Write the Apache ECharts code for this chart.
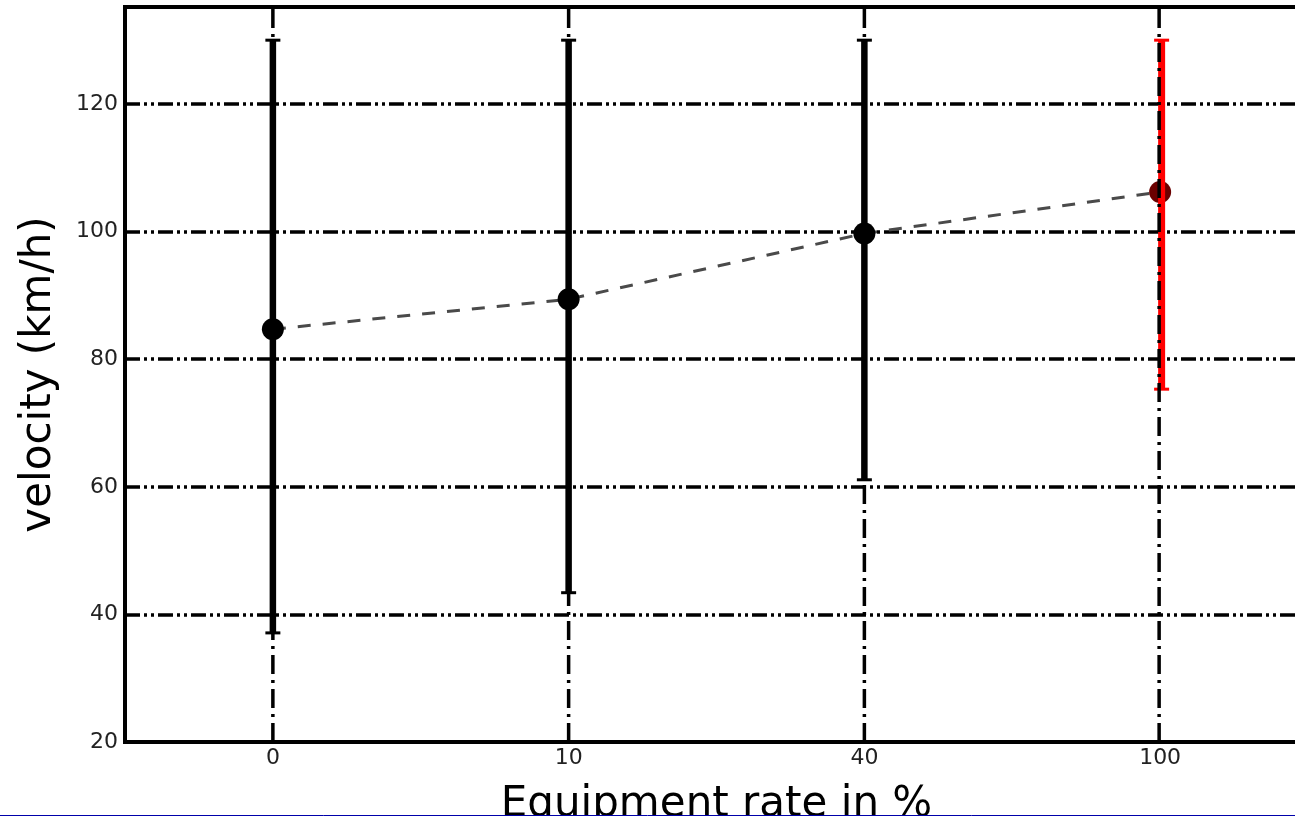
<!DOCTYPE html>
<html>
<head>
<meta charset="utf-8">
<script src="https://cdn.jsdelivr.net/npm/echarts@6/dist/echarts.min.js"></script>
<style>
html,body{margin:0;padding:0;background:#fff;overflow:hidden;}
#chart{width:1295px;height:816px;}
</style>
</head>
<body>
<div id="chart"></div>
<script>
// Data
var categories = ['0', '10', '40', '100'];
var meanVelocity = [84.7, 89.4, 99.7, 106.2];
var lowerBound = [37.1, 43.4, 61.1, 75.3];
var upperBound = [130, 130, 130, 130];
var barColors = ['#000000', '#000000', '#000000', '#ff0000'];
var markerColors = ['#000000', '#000000', '#000000', '#6b0000'];
var yTicks = { min: 20, max: 135.2, interval: 20 };

var chart = echarts.init(document.getElementById('chart'), null, { renderer: 'canvas' });

var errData = categories.map(function (c, i) {
  return [i, lowerBound[i], upperBound[i], i];
});

var option = {
  backgroundColor: '#ffffff',
  animation: false,
  grid: {
    left: 125, top: 7, width: 1183, height: 735,
    outerBoundsMode: 'none',
    containLabel: false,
    show: true, borderColor: '#000', borderWidth: 4, backgroundColor: 'transparent'
  },
  xAxis: {
    type: 'category',
    data: categories,
    boundaryGap: true,
    name: 'Equipment rate in %',
    nameLocation: 'middle',
    nameGap: 42,
    nameTextStyle: { fontFamily: 'DejaVu Sans', fontSize: 42, color: '#000' },
    axisLine: { show: true, lineStyle: { color: '#000', width: 4 } },
    axisTick: { show: false },
    axisLabel: { fontFamily: 'DejaVu Sans', fontSize: 22, color: '#222', margin: 5 },
    splitLine: { show: false }
  },
  yAxis: {
    type: 'value',
    min: yTicks.min,
    max: yTicks.max,
    interval: yTicks.interval,
    name: 'velocity (km/h)',
    nameLocation: 'middle',
    nameGap: 65,
    nameTextStyle: { fontFamily: 'DejaVu Sans', fontSize: 42, color: '#000' },
    axisLine: { show: true, lineStyle: { color: '#000', width: 4 } },
    axisTick: { show: false },
    axisLabel: { fontFamily: 'DejaVu Sans', fontSize: 22, color: '#222', margin: 7, showMaxLabel: false },
    splitLine: { show: true, lineStyle: { color: '#000', width: 3.5, type: [15, 4, 3, 4, 3, 4] } }
  },
  series: [
    {
      type: 'line',
      data: meanVelocity.map(function (v, i) {
        return { value: v, itemStyle: { color: markerColors[i] } };
      }),
      symbol: 'circle',
      symbolSize: 22,
      lineStyle: { color: '#4a4a4a', width: 3, type: [13, 12] },
      itemStyle: { color: '#000' },
      z: 3
    },
    {
      type: 'custom',
      data: errData,
      z: 4,
      clip: false,
      renderItem: function (params, api) {
        var idx = api.value(3);
        var x = api.value(0);
        var lo = api.coord([x, api.value(1)]);
        var hi = api.coord([x, api.value(2)]);
        var cs = params.coordSys;
        var col = barColors[idx];
        var isRed = col !== '#000000';
        var w = isRed ? 7 : 6.5;
        var cx = lo[0] + (isRed ? 1.5 : 0);
        var gx = lo[0] - (isRed ? 1 : 0);
        var capHalf = 7.5;
        var children = [
          { type: 'line', shape: { x1: cx, y1: lo[1], x2: cx, y2: hi[1] }, style: { stroke: col, lineWidth: w } },
          { type: 'line', shape: { x1: cx - capHalf, y1: lo[1], x2: cx + capHalf, y2: lo[1] }, style: { stroke: col, lineWidth: 3 } },
          { type: 'line', shape: { x1: cx - capHalf, y1: hi[1], x2: cx + capHalf, y2: hi[1] }, style: { stroke: col, lineWidth: 3 } },
          // vertical grid line through the category (dash-dot), drawn on top
          { type: 'line', shape: { x1: gx, y1: cs.y + 2, x2: gx, y2: cs.y + cs.height - 2 },
            style: { stroke: '#000', lineWidth: 3.5, lineDash: [19, 6, 3, 6] } }
        ];
        return { type: 'group', children: children };
      }
    }
  ],
  graphic: [
    { type: 'line', shape: { x1: 0, y1: 815.5, x2: 1295, y2: 815.5 }, style: { stroke: '#0000aa', lineWidth: 1 }, z: 100 }
  ]
};
chart.setOption(option);
</script>
</body>
</html>
